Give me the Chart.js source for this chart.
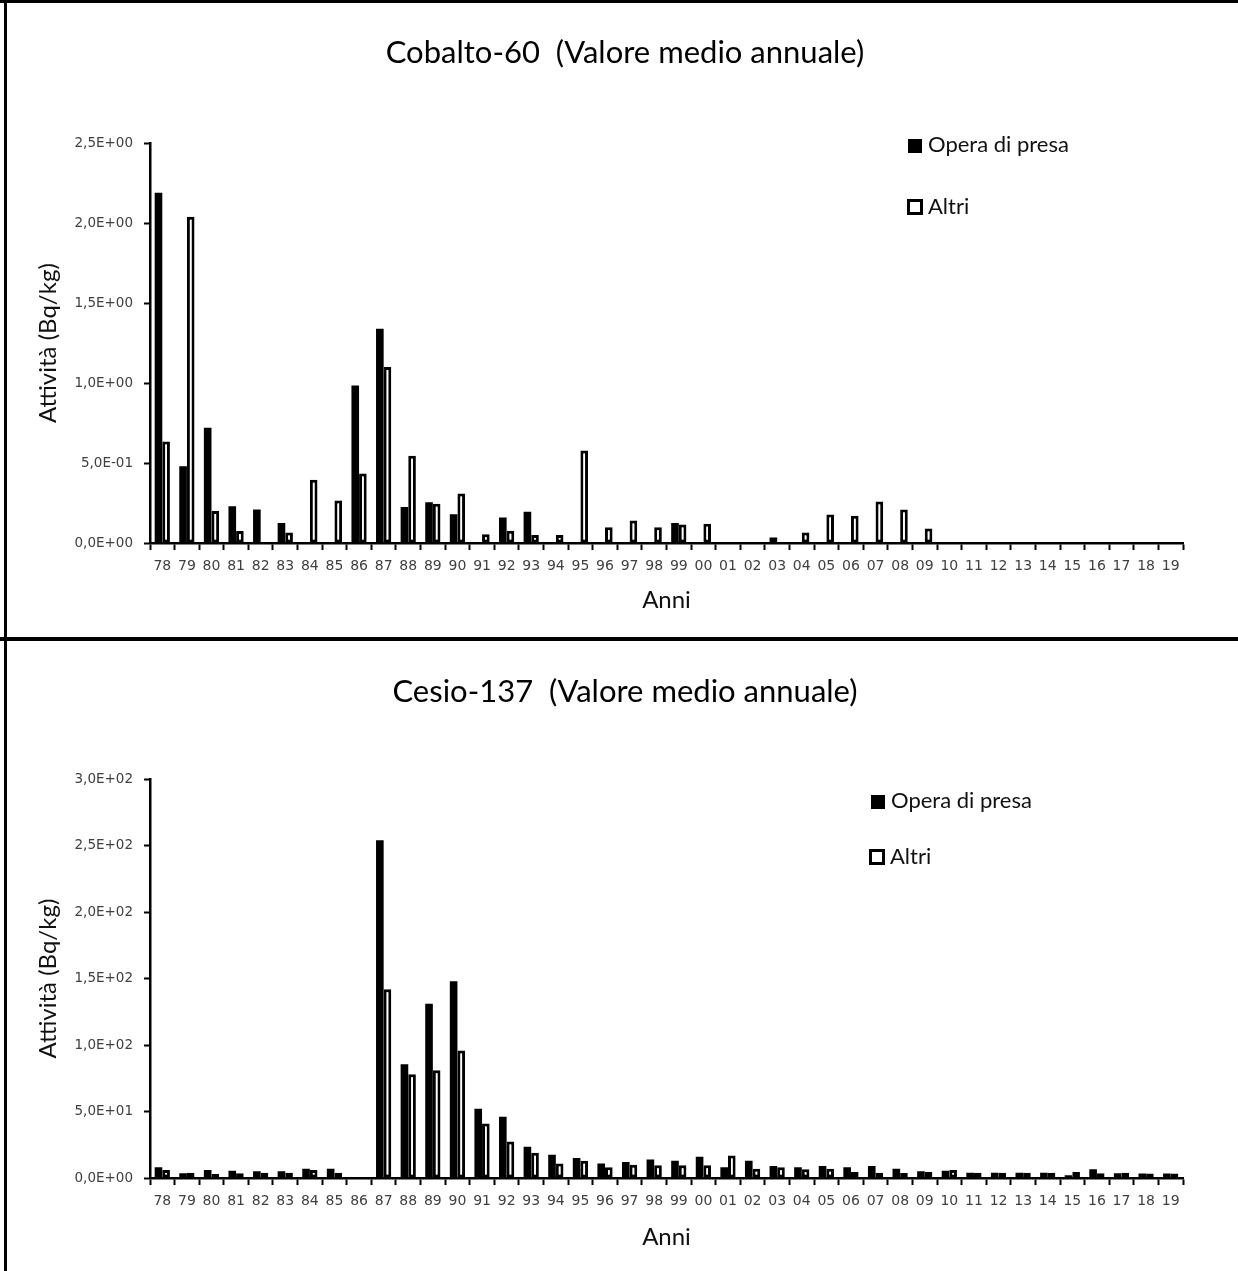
<!DOCTYPE html>
<html lang="it">
<head>
    <meta charset="UTF-8">
    <title>Cobalto-60 / Cesio-137</title>
    <script src="https://cdn.jsdelivr.net/npm/chart.js"></script>
    <style>
        body { margin: 0; background: #fff; }
        #wrap { position: relative; width: 1238px; height: 1271px; overflow: hidden; }
        .panel { position: absolute; left: 0; width: 1238px; }
        .line { position: absolute; background: #000; }
        .legend { position: absolute; font-family: Lato, sans-serif; font-size: 22px; color: #111; }
        .legend div { position: absolute; white-space: nowrap; line-height: 22px; }
        .sq { display: inline-block; width: 14px; height: 14px; vertical-align: -1px; margin-right: 6px; box-sizing: border-box; }
        .sq.full { background: #000; }
        .sq.empty { background: #fff; border: 3px solid #000; width: 16px; height: 16px; margin-right: 5px; }
    </style>
</head>
<body>
<div id="wrap">
    <div class="panel" style="top:0;height:637px">
        <canvas id="cobalto" width="1238" height="637"></canvas>
        <div class="legend" style="left:908px;top:133px">
            <div style="top:0;left:0"><span class="sq full"></span>Opera di presa</div>
            <div style="top:62px;left:-1px"><span class="sq empty"></span>Altri</div>
        </div>
    </div>
    <div class="panel" style="top:641px;height:630px">
        <canvas id="cesio" width="1238" height="630"></canvas>
        <div class="legend" style="left:871px;top:148px">
            <div style="top:0;left:0"><span class="sq full"></span>Opera di presa</div>
            <div style="top:56px;left:-2px"><span class="sq empty"></span>Altri</div>
        </div>
    </div>
    <div class="line" style="left:0;top:0;width:1238px;height:3px"></div>
    <div class="line" style="left:0;top:637px;width:1238px;height:4px"></div>
    <div class="line" style="left:4px;top:0;width:3px;height:1271px"></div>
</div>

<script>
    const years = ['78','79','80','81','82','83','84','85','86','87','88','89','90','91',
        '92','93','94','95','96','97','98','99','00','01','02','03','04','05',
        '06','07','08','09','10','11','12','13','14','15','16','17','18','19'];

    // Cobalto-60 (Bq/kg)
    const coOpera = [2.19, 0.48, 0.72, 0.23, 0.21, 0.125, null, null, 0.985, 1.34, 0.225, 0.255, 0.18, null,
        0.16, 0.195, null, null, null, null, null, 0.125, null, null, null, 0.035, null, null,
        null, null, null, null, null, null, null, null, null, null, null, null, null, null];
    const coAltri = [0.635, 2.04, 0.20, 0.075, null, 0.065, 0.395, 0.265, 0.435, 1.10, 0.545, 0.245, 0.31, 0.055,
        0.077, 0.05, 0.05, 0.578, 0.098, 0.14, 0.098, 0.115, 0.12, null, null, null, 0.065, 0.178,
        0.17, 0.26, 0.21, 0.09, null, null, null, null, null, null, null, null, null, null];
    const coTicks = ['0,0E+00', '5,0E-01', '1,0E+00', '1,5E+00', '2,0E+00', '2,5E+00'];

    // Cesio-137 (Bq/kg)
    const csOpera = [8, 3.5, 6, 5.5, 5, 5, 7, 7, null, 254, 85.5, 131, 148, 52,
        46, 23.5, 17.5, 15, 11, 12, 14, 13, 16, 8, 13, 9, 8, 9,
        8, 9, 7, 5, 5.5, 4, 4, 4, 4, 2, 6.5, 3.5, 3.3, 3.3];
    const csAltri = [6, 4, 3, 3.5, 4, 4, 6, 4, null, 142, 78, 81, 96, 41,
        27.5, 19, 11, 13, 8, 10, 9.5, 9.5, 9.5, 17, 7, 8, 6.5, 7,
        4.5, 4, 3.7, 4.5, 6, 4, 4, 4, 4, 4.5, 3.5, 4, 3.3, 3.3];
    const csTicks = ['0,0E+00', '5,0E+01', '1,0E+02', '1,5E+02', '2,0E+02', '2,5E+02', '3,0E+02'];

    function makeChart(id, title, opera, altri, tickLabels, step, max, lay) {
        return new Chart(document.getElementById(id), {
            type: 'bar',
            data: {
                labels: years,
                datasets: [
                    { label: 'Opera di presa', data: opera, backgroundColor: '#000', borderWidth: 0 },
                    { label: 'Altri', data: altri, backgroundColor: '#fff', borderColor: '#000',
                      borderWidth: 3, borderSkipped: false }
                ]
            },
            options: {
                responsive: false,
                animation: false,
                categoryPercentage: 0.62,
                barPercentage: 1.0,
                // left padding shifts the title centre; y axis width brings the plot back to x=150
                layout: { padding: { left: 67, right: 55, top: 0, bottom: 0 } },
                plugins: {
                    legend: { display: false },
                    tooltip: { enabled: false },
                    title: {
                        display: true,
                        text: title,
                        color: '#000',
                        font: { family: 'Lato', size: 31, weight: 'normal' },
                        padding: { top: lay.titleTop, bottom: lay.titleBottom }
                    }
                },
                scales: {
                    x: {
                        afterFit: (s) => { s.height = lay.xHeight; },
                        grid: { display: true, drawOnChartArea: false, tickLength: 7, tickColor: '#000', tickWidth: 2 },
                        border: { color: '#000', width: 2.5 },
                        ticks: { color: '#404040', padding: 8, maxRotation: 0, autoSkip: false,
                                 font: { family: 'DejaVu Sans', size: 14 } },
                        title: { display: true, text: 'Anni', color: '#111',
                                 font: { family: 'Lato', size: 24 }, padding: { top: 0, bottom: lay.xTitlePad } }
                    },
                    y: {
                        min: 0,
                        max: max,
                        afterFit: (s) => { s.width = 83; },
                        grid: { display: true, drawOnChartArea: false, tickLength: 6, tickColor: '#000', tickWidth: 2 },
                        border: { color: '#000', width: 2.5 },
                        ticks: { stepSize: step, color: '#404040', padding: 11,
                                 font: { family: 'DejaVu Sans', size: 13.5 },
                                 callback: (v, i) => tickLabels[i] },
                        title: { display: true, text: 'Attività (Bq/kg)', color: '#111',
                                 font: { family: 'Lato', size: 24 }, padding: { top: -33, bottom: 0 } }
                    }
                }
            }
        });
    }

    makeChart('cobalto', 'Cobalto-60  (Valore medio annuale)', coOpera, coAltri, coTicks, 0.5, 2.5,
        { titleTop: 34, titleBottom: 72, xHeight: 94, xTitlePad: 22 });
    makeChart('cesio', 'Cesio-137  (Valore medio annuale)', csOpera, csAltri, csTicks, 50, 300,
        { titleTop: 32, titleBottom: 69, xHeight: 93, xTitlePad: 19 });
</script>
</body>
</html>
